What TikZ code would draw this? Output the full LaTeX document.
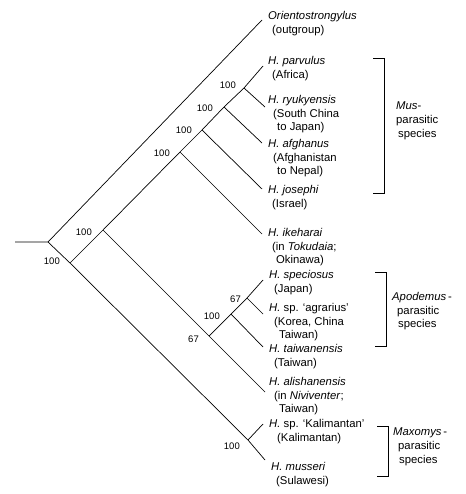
\documentclass[tikz,border=0pt]{standalone}
\usepackage{fontspec}
\setmainfont{Liberation Sans}
\usepackage{tikz}
\usetikzlibrary{positioning}

\begin{document}
\begin{tikzpicture}[
  x=1pt, y=-1pt,
  branch/.style={line width=.7pt},
  taxon/.style={
    anchor=north west,
    inner sep=0pt,
    align=left,
    font=\fontsize{11.3}{13.8}\selectfont
  },
  support/.style={inner sep=0pt, font=\fontsize{9.5}{11}\selectfont},
  hostgroup/.style={
    anchor=north west,
    inner sep=0pt,
    align=left,
    font=\fontsize{11.3}{13.8}\selectfont
  }
]
\useasboundingbox (0,0) rectangle (465,494);

% branching points
\coordinate (stub) at (15,242);
\coordinate (root) at (48,242);
\coordinate (n1) at (70,263);
\coordinate (n2) at (103,230);
\coordinate (n3) at (180,152);
\coordinate (n4) at (202,130);
\coordinate (n5) at (224,107);
\coordinate (n6) at (244,88);
\coordinate (a1) at (209,336);
\coordinate (a2) at (231,314);
\coordinate (a3) at (247,298);
\coordinate (m1) at (248,440);

% tips
\coordinate (og) at (262,20);
\coordinate (parv) at (263,66);
\coordinate (ryu) at (265,107);
\coordinate (afg) at (262,143);
\coordinate (jos) at (262,189);
\coordinate (ike) at (262,234);
\coordinate (spec) at (263,280);
\coordinate (agr) at (263,314);
\coordinate (taiw) at (263,347);
\coordinate (alis) at (265,392);
\coordinate (kal) at (263,424);
\coordinate (muss) at (265,460);

\draw[branch] (stub) -- (root) -- (og);
\draw[branch] (root) -- (n1) -- (m1) -- (muss);
\draw[branch] (m1) -- (kal);
\draw[branch] (n1) -- (n2) -- (n3) -- (n4) -- (n5) -- (n6) -- (parv);
\draw[branch] (n6) -- (ryu);
\draw[branch] (n5) -- (afg);
\draw[branch] (n4) -- (jos);
\draw[branch] (n3) -- (ike);
\draw[branch] (n2) -- (a1) -- (alis);
\draw[branch] (a1) -- (a2) -- (a3) -- (spec);
\draw[branch] (a3) -- (agr);
\draw[branch] (a2) -- (taiw);

% bootstrap values
\node[support,left=10pt of n1,yshift=2pt] (s1) {100};
\node[support,left=11pt of n2,yshift=-2pt] (s2) {100};
\node[support,left=10pt of n3,yshift=-1pt] (s3) {100};
\node[support,left=10pt of n4] (s4) {100};
\node[support,left=11pt of n5,yshift=-1pt] (s5) {100};
\node[support,left=8pt of n6,yshift=3pt] (s6) {100};
\node[support,left=10pt of a1,yshift=-3pt] (sa1) {67};
\node[support,left=11pt of a2,yshift=-2pt] (sa2) {100};
\node[support,left=6pt of a3,yshift=-1pt] (sa3) {67};
\node[support,left=8pt of m1,yshift=-6pt] (sm1) {100};

% taxa
\node[taxon] (ogT) at (268,11) {\textit{Orientostrongylus}\\\hspace*{4pt}(outgroup)};
\node[taxon] (parvT) at (268,56) {\textit{H. parvulus}\\\hspace*{4pt}(Africa)};
\node[taxon] (ryuT) at (268,95) {\textit{H. ryukyensis}\\\hspace*{5pt}(South China\\\hspace*{9pt}to Japan)};
\node[taxon] (afgT) at (268,139) {\textit{H. afghanus}\\\hspace*{5pt}(Afghanistan\\\hspace*{9pt}to Nepal)};
\node[taxon] (josT) at (268,185) {\textit{H. josephi}\\\hspace*{4pt}(Israel)};
\node[taxon] (ikeT) at (268,228) {\textit{H. ikeharai}\\\hspace*{4pt}(in \textit{Tokudaia};\\\hspace*{8pt}Okinawa)};
\node[taxon] (specT) at (269,270) {\textit{H. speciosus}\\\hspace*{5pt}(Japan)};
\node[taxon] (agrT) at (269,303) {\textit{H.} sp. `agrarius'\\\hspace*{5pt}(Korea, China\\\hspace*{10pt}Taiwan)};
\node[taxon] (taiwT) at (269,344) {\textit{H. taiwanensis}\\\hspace*{5pt}(Taiwan)};
\node[taxon] (alisT) at (269,377) {\textit{H. alishanensis}\\\hspace*{5pt}(in \textit{Niviventer};\\\hspace*{10pt}Taiwan)};
\node[taxon] (kalT) at (269,419) {\textit{H.} sp. `Kalimantan'\\\hspace*{8pt}(Kalimantan)};
\node[taxon] (mussT) at (271,462) {\textit{H. musseri}\\\hspace*{5pt}(Sulawesi)};

% host brackets
\draw[branch] (373,58) -- (384,58) -- (384,193) -- (373,193);
\draw[branch] (375,272) -- (386,272) -- (386,346) -- (375,346);
\draw[branch] (377,426) -- (388,426) -- (388,476) -- (377,476);
\node[hostgroup] (musG) at (396,102) {\textit{Mus}-\\parasitic\\\hspace*{2pt}species};
\node[hostgroup] (apoG) at (392,292) {\textit{Apodemus}\,-\\\hspace*{5pt}parasitic\\\hspace*{6pt}species};
\node[hostgroup] (maxG) at (393,428) {\textit{Maxomys}\,-\\\hspace*{5pt}parasitic\\\hspace*{6pt}species};
\end{tikzpicture}
\end{document}
